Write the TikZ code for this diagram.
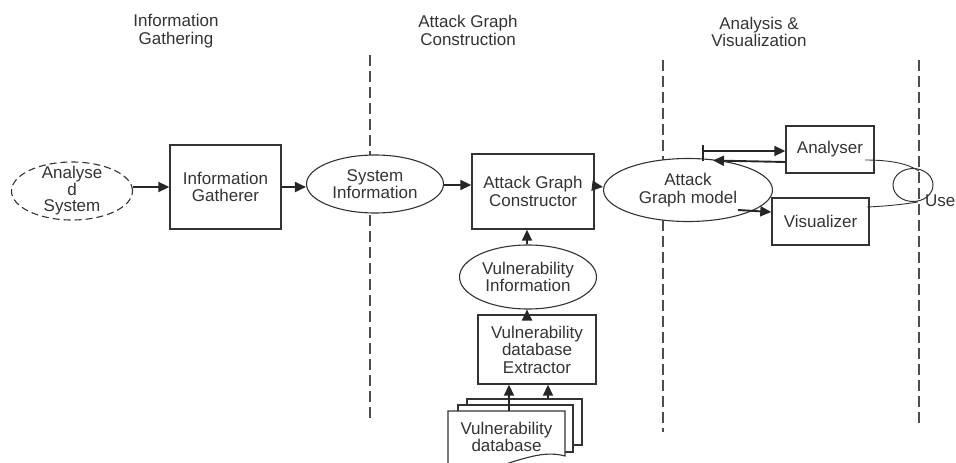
\documentclass[tikz,border=0pt]{standalone}
\usepackage{fontspec}
\setmainfont{Liberation Sans}
\usetikzlibrary{shapes.geometric,arrows.meta,calc}
\begin{document}
\begin{tikzpicture}[x=1pt,y=-1pt,
  every node/.style={font=\fontsize{17}{17.5}\selectfont, text=black!80, align=center, inner sep=0pt},
  boxnode/.style={draw=black!80, line width=1.4pt, rectangle},
  ellnode/.style={draw=black!80, line width=1.1pt, ellipse},
  arr/.style={draw=black!85, line width=1.9pt, -{Triangle[length=11pt,width=10pt]}},
  thinline/.style={draw=black!80, line width=0.9pt},
  divider/.style={draw=black!70, line width=1.3pt, dash pattern=on 11pt off 5pt},
  page/.style={draw=black!80, line width=1.1pt, fill=white}
]
\useasboundingbox (0,0) rectangle (956,463);

% headers
\node (h1) at (176,31) {Information\\Gathering};
\node (h2) at (468,30.5) {Attack Graph\\Construction};
\node (h3) at (759,32) {Analysis \&\\Visualization};

% dividers
\coordinate (d1t) at (370,55); \coordinate (d1b) at (370,420);
\coordinate (d2t) at (663,60); \coordinate (d2b) at (663,432);
\coordinate (d3t) at (919,60); \coordinate (d3b) at (919,428);
\draw[divider] (d1t) -- (d1b);
\draw[divider] (d2t) -- (d2b);
\draw[divider] (d3t) -- (d3b);

% nodes
\node[ellnode, dash pattern=on 7pt off 4pt, minimum width=121pt, minimum height=58pt,
  label={[font=\fontsize{17}{16.5}\selectfont, text=black!80, align=center]center:Analyse\\d\\System}] (as) at (72,191) {};
\node[boxnode, minimum width=111pt, minimum height=84pt] (ig) at (225.5,187) {Information\\Gatherer};
\node[ellnode, fill=white, minimum width=137pt, minimum height=58pt] (si) at (375,184) {System\\Information};
\node[boxnode, minimum width=122pt, minimum height=75pt] (agc) at (533,191.5) {Attack Graph\\Constructor};
\node[ellnode, fill=white, minimum width=169pt, minimum height=63pt] (agm) at (688,190) {Attack\\Graph model};
\node[boxnode, minimum width=88pt, minimum height=47pt] (an) at (830,149.5) {Analyser};
\node[boxnode, minimum width=97pt, minimum height=47pt] (vis) at (820.5,221.5) {Visualizer};
\node[ellnode, line width=1pt, minimum width=40pt, minimum height=33pt] (user) at (913,185) {};
\node[anchor=base west] (userlbl) at (925,206) {Use};
\node[ellnode, fill=white, minimum width=137pt, minimum height=64pt] (vi) at (528,277) {Vulnerability\\Information};
\node[boxnode, minimum width=118pt, minimum height=69pt] (ext) at (537,349.5) {Vulnerability\\database\\Extractor};

% database stack
\node[page, rectangle, minimum width=115pt, minimum height=46pt] (dbback) at (524.5,422) {};
\node[page, rectangle, minimum width=115pt, minimum height=47pt] (dbmid) at (515.5,428.5) {};
\path[page] (448,411) -- (565,411) -- (565,456) .. controls (540,449) and (515,463) .. (490,468) -- (448,468) -- cycle;
\node (db) at (506.5,437) {Vulnerability\\database};
\coordinate (dbtop) at (509,411);

% connectors
\draw[arr] (as.east |- 0,187) -- (ig.west |- 0,187);
\draw[arr] (ig.east |- 0,187) -- (si.west |- 0,187);
\draw[arr] ($(si.east)+(0,1)$) -- (agc.west |- 0,185);
\draw[arr] (agc.east |- 0,186) -- (agm.west |- 0,187);
\draw[arr] (vi.north -| 527,0) -- (agc.south -| 527,0);
\draw[arr] (ext.north -| 527,0) -- (vi.south -| 527,0);
\draw[arr] (dbtop) -- (ext.south -| dbtop);
\draw[arr] (dbback.north -| 548,0) -- (ext.south -| 548,0);

% analysis connectors
\coordinate (tk1) at (703,145);
\coordinate (tk2) at (703,161);
\coordinate (tk3) at (703,151);
\coordinate (amtop) at (713,160.5);
\draw[draw=black!85, line width=1.6pt] (tk1) -- (tk2);
\draw[arr] (tk3) -- (an.west |- tk3);
\draw[arr] (an.west |- 0,162) -- (amtop);
\coordinate (amr) at (738,210);
\draw[arr] (amr) -- (vis.west |- 0,212);
\coordinate (anr) at (865,160);
\coordinate (usr1) at (919,171);
\draw[thinline] (anr) .. controls (892,160) and (908,164) .. (usr1);
\coordinate (visr) at (867,207);
\coordinate (usr2) at (918,202);
\draw[thinline] (visr) .. controls (890,206) and (905,204) .. (usr2);
\end{tikzpicture}
\end{document}
